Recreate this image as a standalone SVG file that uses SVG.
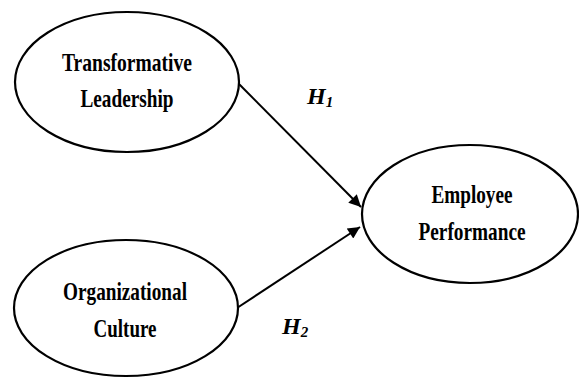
<svg xmlns="http://www.w3.org/2000/svg" width="579" height="379" viewBox="0 0 579 379">
<style>
.node{fill:#fff;stroke:#000;stroke-width:2.2}
.lbl{font-family:"Liberation Serif","Times New Roman",serif;font-weight:bold;font-size:26px;fill:#000;text-anchor:middle}
.h{font-family:"Liberation Serif","Times New Roman",serif;font-weight:bold;font-style:italic;font-size:24px;fill:#000}
.sub{font-size:15px}
.edge{stroke:#000;stroke-width:2;fill:none}
</style>
<defs>
<marker id="arr" viewBox="0 0 10 10" refX="10" refY="5" markerWidth="7.5" markerHeight="6" markerUnits="strokeWidth" orient="auto">
<path d="M0,0 L10,5 L0,10 z" fill="#000"/>
</marker>
</defs>
<g id="connectors">
<line class="edge" x1="238" y1="83" x2="361" y2="207" marker-end="url(#arr)"/>
<line class="edge" x1="237" y1="308" x2="360" y2="227" marker-end="url(#arr)"/>
<text class="h" x="307" y="104">H<tspan class="sub" dy="3">1</tspan></text>
<text class="h" x="282" y="334">H<tspan class="sub" dy="3">2</tspan></text>
</g>
<g id="transformative-leadership">
<ellipse class="node" cx="127" cy="82" rx="112" ry="70"/>
<text class="lbl" x="127" y="71" textLength="130" lengthAdjust="spacingAndGlyphs">Transformative</text>
<text class="lbl" x="127" y="107" textLength="93" lengthAdjust="spacingAndGlyphs">Leadership</text>
</g>
<g id="organizational-culture">
<ellipse class="node" cx="126" cy="308" rx="112" ry="68"/>
<text class="lbl" x="125" y="300" textLength="124" lengthAdjust="spacingAndGlyphs">Organizational</text>
<text class="lbl" x="125" y="337" textLength="63" lengthAdjust="spacingAndGlyphs">Culture</text>
</g>
<g id="employee-performance">
<ellipse class="node" cx="470" cy="214" rx="108" ry="69"/>
<text class="lbl" x="472" y="203" textLength="81" lengthAdjust="spacingAndGlyphs">Employee</text>
<text class="lbl" x="472" y="240" textLength="107" lengthAdjust="spacingAndGlyphs">Performance</text>
</g>
</svg>
